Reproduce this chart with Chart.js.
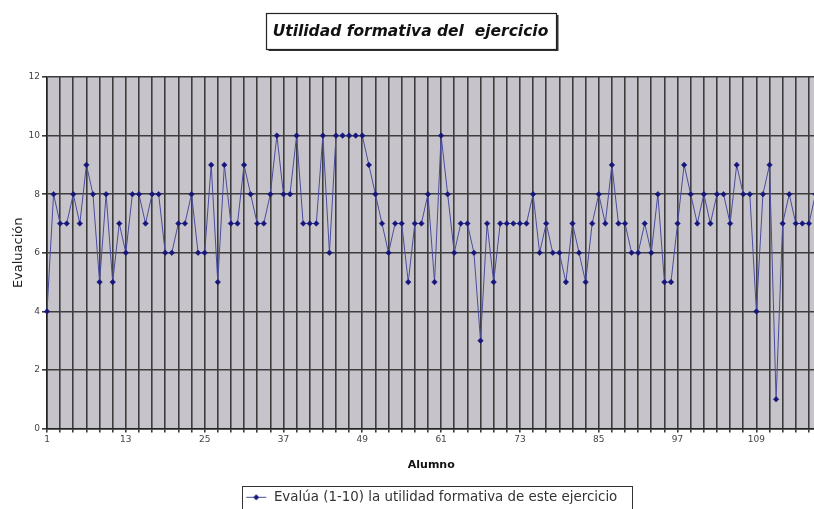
<!DOCTYPE html>
<html>
<head>
<meta charset="utf-8">
<script src="https://cdn.jsdelivr.net/npm/chart.js@4/dist/chart.umd.min.js"></script>
<style>
  html, body { margin: 0; padding: 0; background: #fff; overflow: hidden; }
  #wrap { width: 814px; height: 509px; overflow: hidden; position: relative; }
  #chart { position: absolute; left: 0; top: 0; }
</style>
</head>
<body>
<div id="wrap"><canvas id="chart" width="820" height="516"></canvas></div>
<script>
const chartTitle = 'Utilidad formativa del  ejercicio';
const seriesLabel = 'Evalúa (1-10) la utilidad formativa de este ejercicio';
const xTitle = 'Alumno';
const yTitle = 'Evaluación';

// one value per student
const evaluacion = [
  4, 8, 7, 7, 8, 7, 9, 8, 5, 8, 5, 7, 6, 8, 8, 7, 8, 8, 6, 6,
  7, 7, 8, 6, 6, 9, 5, 9, 7, 7, 9, 8, 7, 7, 8, 10, 8, 8, 10, 7,
  7, 7, 10, 6, 10, 10, 10, 10, 10, 9, 8, 7, 6, 7, 7, 5, 7, 7, 8, 5,
  10, 8, 6, 7, 7, 6, 3, 7, 5, 7, 7, 7, 7, 7, 8, 6, 7, 6, 6, 5,
  7, 6, 5, 7, 8, 7, 9, 7, 7, 6, 6, 7, 6, 8, 5, 5, 7, 9, 8, 7,
  8, 7, 8, 8, 7, 9, 8, 8, 4, 8, 9, 1, 7, 8, 7, 7, 7, 8
];
const alumnos = evaluacion.map((v, i) => String(i + 1));
const xTickLabels = ['1', '13', '25', '37', '49', '61', '73', '85', '97', '109'];
const yTicks = [0, 2, 4, 6, 8, 10, 12];

const FONT = '"DejaVu Sans", "Liberation Sans", sans-serif';
const gridColor = '#3c3c3c';
const lineColor = '#4a4c9c';
const markerColor = '#16167a';

// legend symbol: line with a diamond, like the excel one
function legendSymbol() {
  const c = document.createElement('canvas');
  c.width = 22; c.height = 9;
  const g = c.getContext('2d');
  g.strokeStyle = lineColor;
  g.lineWidth = 1;
  g.beginPath(); g.moveTo(1, 4.5); g.lineTo(21, 4.5); g.stroke();
  g.fillStyle = markerColor;
  g.beginPath();
  g.moveTo(11, 1.5); g.lineTo(14, 4.5); g.lineTo(11, 7.5); g.lineTo(8, 4.5);
  g.closePath(); g.fill();
  return c;
}

const plotBackground = {
  id: 'plotBackground',
  beforeDraw(chart) {
    const { ctx, chartArea: a } = chart;
    ctx.save();
    ctx.fillStyle = '#c6c4ca';
    ctx.fillRect(a.left, a.top, a.right - a.left, a.bottom - a.top);
    ctx.restore();
  }
};

const boxedTitle = {
  id: 'boxedTitle',
  afterDraw(chart) {
    const ctx = chart.ctx;
    ctx.save();
    ctx.font = 'italic bold 15.5px ' + FONT;
    const w = ctx.measureText(chartTitle).width;
    const cx = 410.5, top = 13, h = 36;
    const left = Math.round(cx - w / 2 - 7) + 0.5;
    const bw = Math.round(w + 14);
    ctx.fillStyle = '#333';
    ctx.fillRect(left + 2, top + 2, bw, h);
    ctx.fillStyle = '#fff';
    ctx.fillRect(left, top, bw, h);
    ctx.strokeStyle = '#222';
    ctx.lineWidth = 1.2;
    ctx.strokeRect(left, top + 0.5, bw, h);
    ctx.fillStyle = '#111';
    ctx.textAlign = 'center';
    ctx.textBaseline = 'middle';
    ctx.fillText(chartTitle, cx, top + h / 2 + 1);
    ctx.restore();
  }
};

const legendBorder = {
  id: 'legendBorder',
  afterDraw(chart) {
    const hb = chart.legend.legendHitBoxes[0];
    if (!hb) return;
    const ctx = chart.ctx;
    ctx.save();
    ctx.strokeStyle = '#333';
    ctx.lineWidth = 1;
    ctx.strokeRect(Math.round(hb.left - 3) + 0.5, Math.round(hb.top - 5) + 0.5,
      Math.round(hb.width + 18), Math.round(hb.height + 12));
    ctx.restore();
  }
};

new Chart(document.getElementById('chart'), {
  type: 'line',
  data: {
    labels: alumnos,
    datasets: [{
      label: seriesLabel,
      data: evaluacion,
      borderColor: lineColor,
      borderWidth: 1,
      pointStyle: 'rectRot',
      pointRadius: 2.8,
      pointBackgroundColor: markerColor,
      pointBorderColor: markerColor,
      pointBorderWidth: 0.5,
      tension: 0
    }]
  },
  options: {
    responsive: false,
    animation: false,
    devicePixelRatio: 1,
    layout: { padding: { top: 77, right: 4, bottom: 2, left: 0 } },
    scales: {
      x: {
        type: 'category',
        offset: false,
        afterFit(scale) { scale.height = 52; },
        grid: {
          color: ctx => (ctx.index % 2 === 0 ? gridColor : 'rgba(0,0,0,0)'),
          lineWidth: 1.6,
          tickLength: 4,
          drawOnChartArea: true
        },
        border: { color: '#222', width: 1.5 },
        ticks: {
          autoSkip: false,
          maxRotation: 0,
          padding: 2,
          color: '#444',
          font: { family: FONT, size: 9 },
          callback(v, i) {
            const lab = alumnos[i];
            return xTickLabels.includes(lab) ? lab : '';
          }
        },
        title: {
          display: true,
          text: xTitle,
          color: '#111',
          font: { family: FONT, size: 11, weight: 'bold' },
          padding: { top: 0, bottom: 9 }
        }
      },
      y: {
        min: 0,
        max: 12,
        afterFit(scale) { scale.width = 47; },
        afterBuildTicks(scale) { scale.ticks = yTicks.map(v => ({ value: v })); },
        grid: { color: gridColor, lineWidth: 1.6, tickLength: 5 },
        border: { color: '#222', width: 1.5 },
        ticks: {
          padding: 2,
          color: '#444',
          font: { family: FONT, size: 9 }
        },
        title: {
          display: true,
          text: yTitle,
          color: '#222',
          font: { family: FONT, size: 13 },
          padding: { top: 11, bottom: 0 }
        }
      }
    },
    plugins: {
      title: { display: false },
      tooltip: { enabled: false },
      legend: {
        position: 'bottom',
        fullSize: false,
        labels: {
          usePointStyle: true,
          pointStyle: legendSymbol(),
          pointStyleWidth: 22,
          padding: 10,
          color: '#333',
          font: { family: FONT, size: 13.4 }
        }
      }
    }
  },
  plugins: [plotBackground, boxedTitle, legendBorder]
});
</script>
</body>
</html>
